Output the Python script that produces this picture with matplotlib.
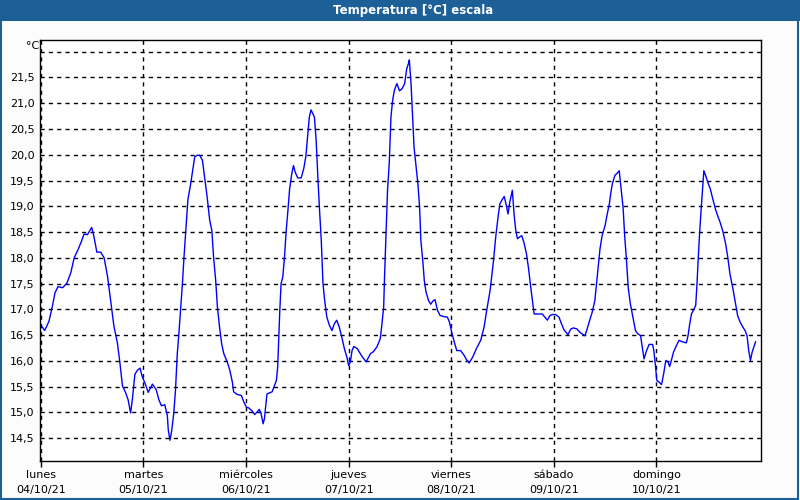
import matplotlib
matplotlib.use("Agg")
import matplotlib.pyplot as plt
from matplotlib.patches import Rectangle

# horas desde el lunes 04/10/21 00:00 y temperatura leida
horas = [0.2, 0.9, 1.9, 2.7, 3.3, 4.0, 5.1, 6.1, 7.0, 7.8, 8.7, 9.5, 10.1, 10.9, 11.9, 12.4, 13.1, 14.0,
         14.8, 15.6, 16.3, 17.1, 17.9, 18.5, 19.1, 19.8, 20.4, 21.0, 21.4, 22.0, 22.6, 23.2, 23.7, 24.5,
         25.1, 26.1, 27.0, 27.6, 28.2, 29.0, 29.6, 29.8, 30.2, 30.6, 31.1, 31.5, 31.9, 32.3, 32.7, 33.1,
         33.5, 33.9, 34.4,
         35.0, 35.4, 36.0, 36.6, 37.2, 37.8, 38.3, 38.9, 39.5, 40.0, 40.4, 40.9, 41.3, 41.8, 42.3, 42.8,
         43.6, 44.2, 44.8, 45.1, 45.9, 46.9, 47.5, 48.1, 48.6, 49.4, 50.0, 50.6, 51.1, 51.5, 52.0, 52.3,
         52.9, 53.5, 54.1, 54.5, 55.1, 55.4, 55.6, 55.9, 56.2, 56.6, 57.0, 57.4, 57.8, 58.2, 58.7, 59.1,
         59.5, 60.1, 60.9, 61.5, 62.0, 62.4, 62.8, 63.2, 63.6, 64.0, 64.4, 64.8, 65.2, 65.6, 66.0, 66.4,
         66.9, 67.5, 68.1, 68.6, 69.2, 69.8,
         70.4, 71.0, 71.6, 72.0, 72.4, 72.8, 73.2, 74.0, 75.1, 76.1, 77.1, 77.8, 78.6, 79.4, 79.8, 80.2,
         80.4, 80.7, 81.1, 81.5, 81.9, 82.3, 82.7, 83.3, 83.9, 84.5, 85.1, 85.6, 86.0, 86.2, 86.6, 86.9,
         87.3, 87.8, 88.2, 88.6, 88.9, 89.4, 89.7, 90.1, 90.7, 91.2, 91.7, 92.2, 92.8, 93.4, 94.3, 95.1,
         95.6, 96.1, 96.7, 97.3, 98.2, 99.0, 99.6, 100.2, 101.0, 101.9, 102.9, 103.7, 104.3,
         105.1, 105.9, 106.4, 107.0, 107.4, 108.0, 108.4, 108.8, 109.3, 109.7, 110.1, 110.3, 110.7, 111.1,
         111.5, 112.1, 112.5, 113.0, 113.6, 114.1, 114.6, 115.0, 115.4, 116.2, 117.3, 117.9, 118.5, 119.1,
         119.7, 120.4, 121.2, 121.8, 122.4, 123.3, 124.0, 124.6, 125.4, 126.3, 127.3, 127.8, 128.4, 129.0,
         129.6, 130.0, 130.4, 130.8, 131.3, 132.0, 132.5, 133.0, 133.3, 133.7, 134.3, 134.8, 135.3, 135.7,
         136.2, 136.6, 137.0, 137.4, 137.9, 138.5, 139.1, 139.6, 140.3,
         140.7, 141.1, 141.7, 142.3, 143.1, 143.4, 143.8, 144.1, 144.6, 145.2, 145.7, 146.2, 146.7, 147.1,
         147.5, 148.0, 148.7, 149.3, 150.1, 151.0, 151.4, 151.8, 152.2, 152.7, 153.2, 153.5, 153.8, 154.1,
         154.5, 154.9, 155.1, 155.5, 156.0, 156.6, 157.2, 157.8, 158.4, 158.9, 159.5, 160.2, 160.7, 161.2,
         161.9, 162.5, 163.0, 163.6, 164.2, 164.8, 165.2, 165.6, 166.0, 166.4, 166.8, 167.2]

temperatura = [16.67, 16.59, 16.77, 17.06, 17.32, 17.44, 17.42, 17.51, 17.71, 18.0, 18.16, 18.32, 18.46,
               18.45, 18.59, 18.42, 18.11, 18.11, 18.0, 17.64, 17.19, 16.67, 16.35, 15.96, 15.51, 15.39,
               15.25, 14.99, 15.25, 15.74, 15.82, 15.86, 15.70, 15.54, 15.39, 15.55, 15.44, 15.25, 15.13,
               15.15, 14.93, 14.67, 14.46, 14.64, 14.99, 15.44, 16.12, 16.54, 17.0, 17.48, 18.03, 18.52,
               19.13,
               19.41, 19.63, 19.96, 19.99, 19.99, 19.89, 19.57, 19.18, 18.73, 18.53, 18.02, 17.56, 17.05,
               16.66, 16.33, 16.14, 15.98, 15.82, 15.59, 15.40, 15.35, 15.33, 15.20, 15.10, 15.09, 15.03,
               14.96, 15.01, 15.06, 14.98, 14.78, 14.88, 15.36, 15.38, 15.40, 15.49, 15.62, 15.88, 16.33,
               16.98, 17.50, 17.63, 18.02, 18.53, 18.92, 19.34, 19.63, 19.79, 19.66, 19.55, 19.55, 19.73,
               19.97, 20.34, 20.73, 20.87, 20.80, 20.73, 20.28, 19.57, 18.92, 18.34, 17.50, 17.17, 16.85,
               16.69, 16.59, 16.71, 16.79, 16.66,
               16.46, 16.24, 16.07, 15.91, 15.98, 16.20, 16.28, 16.24, 16.09, 15.98, 16.14, 16.18, 16.27,
               16.43, 16.72, 17.05, 17.63, 18.34, 19.31, 19.83, 20.73, 21.06, 21.25, 21.38, 21.24, 21.28,
               21.38, 21.67, 21.77, 21.84, 21.38, 20.86, 20.15, 19.76, 19.44, 18.99, 18.34, 17.89, 17.56,
               17.34, 17.17, 17.10, 17.16, 17.19, 16.98, 16.88, 16.86, 16.85, 16.75, 16.56, 16.37, 16.20,
               16.20, 16.11, 16.02, 15.96, 16.07, 16.24, 16.40, 16.66, 16.98,
               17.37, 17.95, 18.40, 18.82, 19.05, 19.14, 19.19, 19.05, 18.85, 19.08, 19.24, 19.31, 18.85,
               18.53, 18.37, 18.41, 18.43, 18.30, 18.08, 17.79, 17.43, 17.17, 16.91, 16.91, 16.91, 16.85,
               16.79, 16.88, 16.90, 16.90, 16.85, 16.72, 16.60, 16.51, 16.62, 16.64, 16.62, 16.54, 16.49,
               16.62, 16.79, 16.95, 17.17, 17.50, 17.82, 18.17, 18.43, 18.63, 18.85, 19.05, 19.24, 19.44,
               19.60, 19.64, 19.69, 19.37, 18.98, 18.40, 17.95, 17.43, 17.11, 16.85, 16.59, 16.53, 16.49,
               16.27, 16.04, 16.20, 16.32, 16.32, 16.20, 15.89, 15.62, 15.59, 15.54, 15.75, 16.01, 15.98,
               15.89, 16.01, 16.17, 16.30, 16.40, 16.37, 16.35, 16.49, 16.72, 16.91, 16.99, 17.08, 17.50,
               18.01, 18.47, 18.98, 19.44, 19.69, 19.60, 19.47, 19.34, 19.14, 18.95, 18.80, 18.69, 18.53,
               18.27, 18.01, 17.69, 17.40, 17.11, 16.88, 16.75, 16.66, 16.58, 16.49, 16.20, 16.01, 16.17,
               16.27, 16.37]

dias = ["lunes", "martes", "miércoles", "jueves", "viernes", "sábado", "domingo"]
fechas = ["04/10/21", "05/10/21", "06/10/21", "07/10/21", "08/10/21", "09/10/21", "10/10/21"]
y_ticks = [14.5, 15.0, 15.5, 16.0, 16.5, 17.0, 17.5, 18.0, 18.5, 19.0, 19.5, 20.0, 20.5, 21.0, 21.5, 22.0]
y_labels = ["14,5", "15,0", "15,5", "16,0", "16,5", "17,0", "17,5", "18,0", "18,5", "19,0", "19,5",
            "20,0", "20,5", "21,0", "21,5", ""]

plt.rcParams["font.family"] = ["DejaVu Sans"]

fig = plt.figure(figsize=(8, 5), dpi=100, facecolor="#fbfcfb")

# barra de titulo
fig.patches.append(Rectangle((0, 1 - 21 / 500), 1, 21 / 500, transform=fig.transFigure,
                             facecolor="#1d6097", edgecolor="none"))
fig.text(413 / 800, 1 - 10.5 / 500, "Temperatura [°C] escala", color="white", fontsize=8.5,
         fontweight="bold", ha="center", va="center")
# borde de la ventana
fig.patches.append(Rectangle((0.6 / 800, 0.8 / 500), 797.6 / 800, 479 / 500, transform=fig.transFigure,
                             facecolor="none", edgecolor="#1d6097", linewidth=1.5))

ax = fig.add_axes([40 / 800, 39.3 / 500, 720.7 / 800, 420.4 / 500])
ax.set_facecolor("white")
ax.plot(horas, temperatura, color="#0000ff", linewidth=1)

ax.set_xlim(-0.2, 168.4)
ax.set_ylim(14.064, 22.22)

ax.set_yticks(y_ticks)
ax.set_yticklabels(y_labels, fontsize=8)
ax.set_xticks([24 * i for i in range(7)])
ax.set_xticklabels([d + "\n" + f for d, f in zip(dias, fechas)], fontsize=8, linespacing=1.6)
ax.tick_params(axis="y", length=0, pad=4)
ax.tick_params(axis="x", length=4, width=1, pad=3, direction="out")

ax.grid(True, color="black", linestyle=(0, (3, 3)), linewidth=1)
for s in ax.spines.values():
    s.set_linewidth(1)
    s.set_color("black")

fig.text(26 / 800, 1 - 46 / 500, "°C", fontsize=8, ha="left", va="center")

fig.savefig("out.png", dpi=100, facecolor=fig.get_facecolor())
